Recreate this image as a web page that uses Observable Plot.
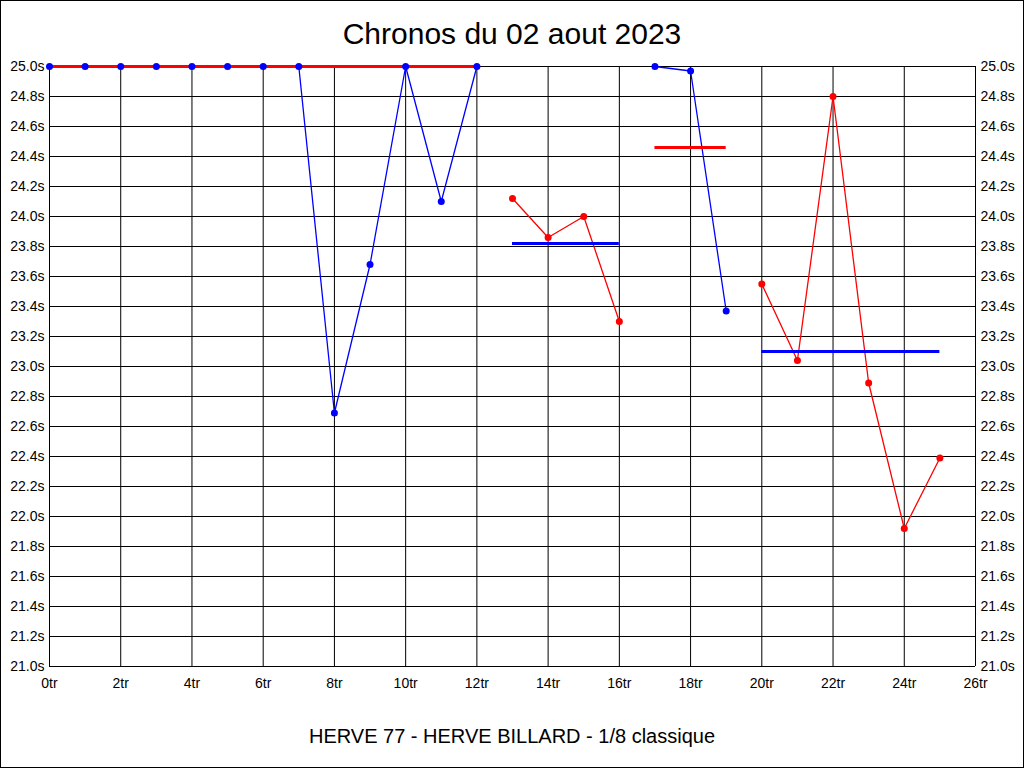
<!DOCTYPE html>
<html>
<head>
<meta charset="utf-8">
<script src="https://cdn.jsdelivr.net/npm/d3@7"></script>
<script src="https://cdn.jsdelivr.net/npm/@observablehq/plot@0.6"></script>
<style>
  html, body { margin: 0; padding: 0; background: #fff; }
  body { width: 1024px; height: 768px; position: relative; overflow: hidden; font-family: "Liberation Sans", Arial, sans-serif; }
  #frame { position: absolute; left: 0; top: 0; width: 1024px; height: 768px; box-sizing: border-box; border: 1px solid #000; pointer-events: none; z-index: 5; }
  #title { position: absolute; left: 0; top: 18.6px; width: 1024px; text-align: center; font-size: 30px; line-height: 30px; color: #000; }
  #chart { position: absolute; left: 0; top: 0; }
  #footer { position: absolute; left: 0; top: 725.8px; width: 1024px; text-align: center; font-size: 20px; line-height: 20px; color: #000; }
</style>
</head>
<body>
<div id="chart"></div>
<div id="title">Chronos du 02 aout 2023</div>
<div id="footer">HERVE 77 - HERVE BILLARD - 1/8 classique</div>
<div id="frame"></div>
<script>
// Tick values
const xTicks = [0, 2, 4, 6, 8, 10, 12, 14, 16, 18, 20, 22, 24, 26];
const yTicks = [21.0, 21.2, 21.4, 21.6, 21.8, 22.0, 22.2, 22.4, 22.6, 22.8, 23.0, 23.2, 23.4, 23.6, 23.8, 24.0, 24.2, 24.4, 24.6, 24.8, 25.0];

// Series segments (laps -> seconds)
const laps1 = [0, 1, 2, 3, 4, 5, 6, 7, 8, 9, 10, 11, 12];
const blue1 = [25.0, 25.0, 25.0, 25.0, 25.0, 25.0, 25.0, 25.0, 22.69, 23.68, 25.0, 24.10, 25.0];
const laps2 = [13, 14, 15, 16];
const red1 = [24.12, 23.86, 24.00, 23.30];
const laps3 = [17, 18, 19];
const blue2 = [25.00, 24.97, 23.37];
const laps4 = [20, 21, 22, 23, 24, 25];
const red2 = [23.55, 23.04, 24.80, 22.89, 21.92, 22.39];

// Average bars
const avgFrom = [0, 13, 17, 20];
const avgTo = [12, 16, 19, 25];
const avgValue = [25.0, 23.82, 24.46, 23.10];
const avgColor = ["red", "blue", "red", "blue"];

const BLUE = "#0000ff", RED = "#ff0000";

const blueRows = [
  ...laps1.map((l, i) => ({lap: l, t: blue1[i], seg: "b1"})),
  ...laps3.map((l, i) => ({lap: l, t: blue2[i], seg: "b2"}))
];
const redRows = [
  ...laps2.map((l, i) => ({lap: l, t: red1[i], seg: "r1"})),
  ...laps4.map((l, i) => ({lap: l, t: red2[i], seg: "r2"}))
];
const avgRows = avgFrom.map((f, i) => ({from: f, to: avgTo[i], t: avgValue[i], c: avgColor[i]}));

const fmtY = d => d.toFixed(1) + "s";

const chart = Plot.plot({
  width: 1024,
  height: 700,
  marginLeft: 49,
  marginRight: 49,
  marginTop: 66,
  marginBottom: 34,
  style: {fontFamily: "'Liberation Sans', Arial, sans-serif", fontSize: "14px", color: "#000", background: "transparent"},
  x: {domain: [0, 26]},
  y: {domain: [21, 25]},
  marks: [
    Plot.gridY(yTicks, {stroke: "#000", strokeOpacity: 1, strokeWidth: 1}),
    Plot.gridX(xTicks, {stroke: "#000", strokeOpacity: 1, strokeWidth: 1}),
    Plot.axisX(xTicks, {tickFormat: d => d + "tr", tickSize: 0, tickPadding: 12, label: null, fontSize: 14}),
    Plot.axisY(yTicks, {anchor: "left", tickFormat: fmtY, tickSize: 0, tickPadding: 5, label: null, fontSize: 14}),
    Plot.axisY(yTicks, {anchor: "right", tickFormat: fmtY, tickSize: 0, tickPadding: 5, label: null, fontSize: 14}),
    Plot.line(blueRows, {x: "lap", y: "t", z: "seg", stroke: BLUE, strokeWidth: 1.3, curve: "linear"}),
    Plot.line(redRows, {x: "lap", y: "t", z: "seg", stroke: RED, strokeWidth: 1.3, curve: "linear"}),
    Plot.ruleY(avgRows.filter(d => d.c === "red"), {y: "t", x1: "from", x2: "to", stroke: RED, strokeWidth: 3}),
    Plot.ruleY(avgRows.filter(d => d.c === "blue"), {y: "t", x1: "from", x2: "to", stroke: BLUE, strokeWidth: 3}),
    Plot.dot(blueRows, {x: "lap", y: "t", r: 3.5, fill: BLUE, stroke: "none"}),
    Plot.dot(redRows, {x: "lap", y: "t", r: 3.5, fill: RED, stroke: "none"})
  ]
});
document.getElementById("chart").appendChild(chart);
</script>
</body>
</html>
